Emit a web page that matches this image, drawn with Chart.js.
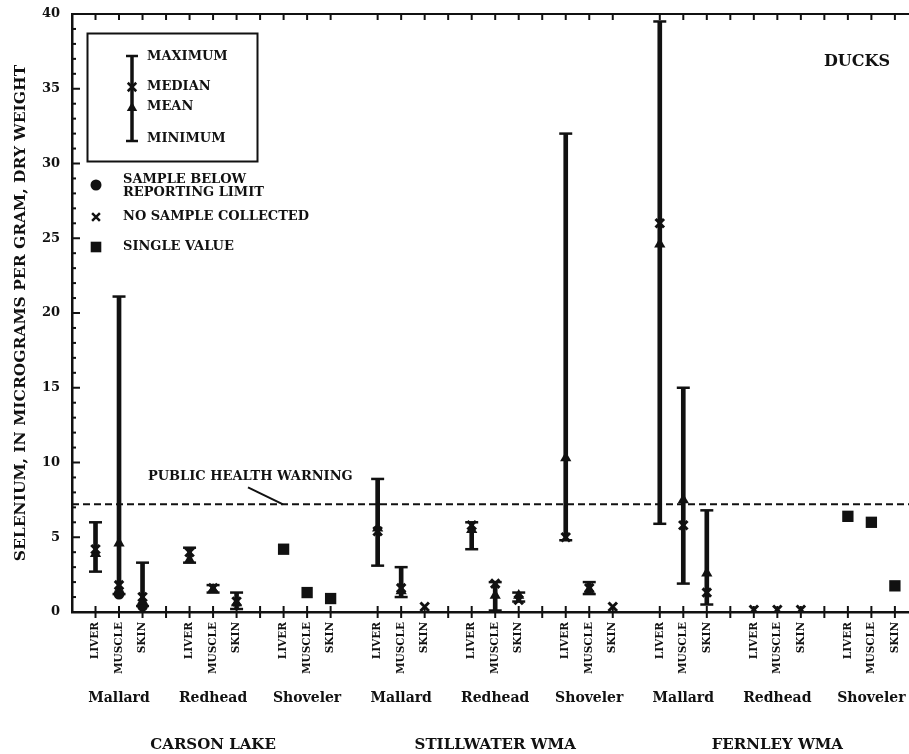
<!DOCTYPE html>
<html>
<head>
<meta charset="utf-8">
<script src="https://cdn.jsdelivr.net/npm/chart.js@4/dist/chart.umd.min.js"></script>
<style>
  html, body { margin: 0; padding: 0; background: #fff; }
  #wrap { width: 909px; height: 754px; }
</style>
</head>
<body>
<div id="wrap"><canvas id="c" width="909" height="754"></canvas></div>
<script>
// Categories: site -> species -> tissue (27 combinations, in this order)
const sites = ['CARSON LAKE', 'STILLWATER WMA', 'FERNLEY WMA'];
const species = ['Mallard', 'Redhead', 'Shoveler'];
const tissues = ['LIVER', 'MUSCLE', 'SKIN'];

// Selenium, micrograms per gram dry weight
const maximum = [6.0, 21.1, 3.3,  4.3, 1.8, 1.3,  null, null, null,
                 8.9, 3.0, null,  6.0, 2.0, 1.3,  32.0, 2.0, null,
                 39.5, 15.0, 6.8, null, null, null, null, null, null];
const minimum = [2.7, 1.2, 0.4,  3.3, 1.3, 0.2,  null, null, null,
                 3.1, 1.0, null,  4.2, 0.1, 0.7,  4.8, 1.2, null,
                 5.9, 1.9, 0.5,  null, null, null, null, null, null];
const median  = [4.2, 1.8, 1.0,  4.0, 1.6, 0.7,  null, null, null,
                 5.4, 1.6, null,  5.8, 1.9, 0.8,  5.0, 1.6, null,
                 26.0, 5.8, 1.3, null, null, null, null, null, null];
const mean    = [3.9, 4.6, 0.7,  3.5, 1.5, 0.6,  null, null, null,
                 5.6, 1.4, null,  5.5, 1.1, 1.1,  10.3, 1.5, null,
                 24.6, 7.5, 2.6, null, null, null, null, null, null];
const belowLimit = [null, 1.2, 0.4, null, null, null, null, null, null,
                    null, null, null, null, null, null, null, null, null,
                    null, null, null, null, null, null, null, null, null];
const singleValue = [null, null, null, null, null, null, 4.2, 1.3, 0.9,
                     null, null, null, null, null, null, null, null, null,
                     null, null, null, null, null, null, 6.4, 6.0, 1.75];
const noSample = [null, null, null, null, null, null, null, null, null,
                  null, null, 0.35, null, null, null, null, null, 0.35,
                  null, null, null, 0.15, 0.15, 0.15, null, null, null];

const healthWarning = 7.2;
const yStep = 5;
const yMax = 40;

// Each species group takes 4 slots on the x axis (3 tissues + a spacer)
const slotOf = i => Math.floor(i / 9) * 12 + Math.floor((i % 9) / 3) * 4 + (i % 3);
const points = arr => arr.map((v, i) => v == null ? null : { x: slotOf(i), y: v }).filter(Boolean);

const ink = '#111';
const FONT = '"DejaVu Serif", "Liberation Serif", serif';

const ranges = maximum.map((hi, i) => (hi == null || minimum[i] == null) ? null : { x: slotOf(i), y: [minimum[i], hi] })
                      .filter(Boolean);
const caps = points(maximum).concat(points(minimum));

function line(ctx, x1, y1, x2, y2) {
  ctx.beginPath(); ctx.moveTo(x1, y1); ctx.lineTo(x2, y2); ctx.stroke();
}

// The plot runs right up to the canvas edge (open on the right side)
const fullWidth = {
  id: 'fullWidth',
  afterLayout(chart) {
    const a = chart.chartArea, x = chart.scales.x;
    if (a.right < chart.width) {
      a.right = chart.width;
      a.width = a.right - a.left;
      x.right = chart.width;
      x.width = x.right - x.left;
      x.configure();
    }
  }
};

const decor = {
  id: 'decor',
  beforeDatasetsDraw(chart) {
    const { ctx, chartArea: a, scales: { x, y } } = chart;
    ctx.save();
    ctx.strokeStyle = ink;
    ctx.lineWidth = 2;
    // frame top
    line(ctx, a.left, a.top, a.right, a.top);
    // inward y ticks, major every 5, minor every 1
    for (let v = 0; v <= yMax; v++) {
      const py = y.getPixelForValue(v);
      line(ctx, a.left, py, a.left + (v % yStep === 0 ? 8 : 4), py);
    }
    // x ticks across the axis and along the top
    for (let s = 0; s <= 34; s++) {
      if (s % 12 === 11) continue;
      const px = x.getPixelForValue(s);
      line(ctx, px, a.bottom - 6, px, a.bottom + 6);
      line(ctx, px, a.top, px, a.top + 6);
    }
    // public health warning level
    const wy = y.getPixelForValue(healthWarning);
    ctx.setLineDash([7, 4]);
    line(ctx, a.left, wy, a.right, wy);
    ctx.setLineDash([]);
    ctx.font = 'bold 13px ' + FONT;
    ctx.fillStyle = ink;
    ctx.textBaseline = 'middle';
    ctx.textAlign = 'left';
    ctx.fillText('PUBLIC HEALTH WARNING', a.left + 76, wy - 28);
    line(ctx, a.left + 176, wy - 17, a.left + 211, wy);
    ctx.restore();
  },
  afterDraw(chart) {
    const { ctx, chartArea: a, scales: { x } } = chart;
    const H = Chart.helpers;
    ctx.save();
    ctx.fillStyle = ink;
    ctx.strokeStyle = ink;
    ctx.textBaseline = 'middle';

    // species and site labels under the tissue names
    ctx.textAlign = 'center';
    ctx.font = 'bold 14px ' + FONT;
    sites.forEach((site, si) => {
      species.forEach((sp, pi) => {
        ctx.fillText(sp, x.getPixelForValue(si * 12 + pi * 4 + 1), a.bottom + 86);
      });
    });
    ctx.font = 'bold 15px ' + FONT;
    sites.forEach((site, si) => {
      ctx.fillText(site, x.getPixelForValue(si * 12 + 5), a.bottom + 133);
    });

    // panel title
    ctx.textAlign = 'right';
    ctx.font = 'bold 16px ' + FONT;
    ctx.fillText('DUCKS', a.right - 19, a.top + 48);

    // key
    const L = a.left, T = a.top;
    ctx.lineWidth = 2;
    ctx.strokeRect(L + 15.5, T + 19.5, 170, 128);
    const bx = L + 60;
    ctx.lineWidth = 3.5;
    line(ctx, bx, T + 42, bx, T + 127);
    ctx.lineWidth = 2.5;
    line(ctx, bx - 6, T + 42, bx + 6, T + 42);
    line(ctx, bx - 6, T + 127, bx + 6, T + 127);
    H.drawPoint(ctx, { pointStyle: 'crossRot', radius: 6, borderWidth: 3, rotation: 0 }, bx, T + 73);
    H.drawPoint(ctx, { pointStyle: 'triangle', radius: 6, borderWidth: 0, rotation: 0 }, bx, T + 94);

    ctx.textAlign = 'left';
    ctx.font = 'bold 13px ' + FONT;
    const tx = L + 75;
    ctx.fillText('MAXIMUM', tx, T + 43);
    ctx.fillText('MEDIAN', tx, T + 73);
    ctx.fillText('MEAN', tx, T + 93);
    ctx.fillText('MINIMUM', tx, T + 125);

    const mx = L + 24, lx = L + 51;
    H.drawPoint(ctx, { pointStyle: 'circle', radius: 5.5, borderWidth: 0, rotation: 0 }, mx, T + 171);
    ctx.fillText('SAMPLE BELOW', lx, T + 166);
    ctx.fillText('REPORTING LIMIT', lx, T + 179);
    H.drawPoint(ctx, { pointStyle: 'crossRot', radius: 5.5, borderWidth: 3, rotation: 0 }, mx, T + 203);
    ctx.fillText('NO SAMPLE COLLECTED', lx, T + 203);
    H.drawPoint(ctx, { pointStyle: 'rect', radius: 7.5, borderWidth: 0, rotation: 0 }, mx, T + 233);
    ctx.fillText('SINGLE VALUE', lx, T + 233);
    ctx.restore();
  }
};

const markerBase = { type: 'scatter', backgroundColor: ink, borderColor: ink };

new Chart(document.getElementById('c'), {
  type: 'scatter',
  data: {
    datasets: [
      { ...markerBase, label: 'Median', data: points(median), pointStyle: 'crossRot', pointRadius: 6, pointBorderWidth: 3 },
      { ...markerBase, label: 'Mean', data: points(mean), pointStyle: 'triangle', pointRadius: 6.5, pointBorderWidth: 0 },
      { ...markerBase, label: 'Sample below reporting limit', data: points(belowLimit), pointStyle: 'circle', pointRadius: 5.5, pointBorderWidth: 0 },
      { ...markerBase, label: 'Single value', data: points(singleValue), pointStyle: 'rect', pointRadius: 8, pointBorderWidth: 0 },
      { ...markerBase, label: 'No sample collected', data: points(noSample), pointStyle: 'crossRot', pointRadius: 6, pointBorderWidth: 3 },
      { ...markerBase, label: 'Maximum / minimum', data: caps, pointStyle: 'line', pointRadius: 6.5, pointBorderWidth: 2.5 },
      { type: 'bar', label: 'Range', data: ranges, backgroundColor: ink, borderWidth: 0, barThickness: 4, grouped: false }
    ]
  },
  options: {
    responsive: false,
    animation: false,
    devicePixelRatio: 1,
    events: [],
    layout: { padding: { left: 8, top: 14, right: 0, bottom: 0 } },
    plugins: { legend: { display: false }, tooltip: { enabled: false } },
    scales: {
      x: {
        type: 'linear', min: -1, max: 34.6, offset: false,
        grid: { display: false, drawTicks: false },
        border: { display: true, color: ink, width: 2.5 },
        ticks: {
          stepSize: 1, autoSkip: false, minRotation: 90, maxRotation: 90, padding: 10, color: ink,
          font: { family: FONT, weight: 'bold', size: 10.5 },
          callback: v => (Number.isInteger(v) && v >= 0 && v % 4 !== 3) ? tissues[v % 4] : ''
        },
        afterFit: s => { s.height = 142; s.paddingLeft = 0; s.paddingRight = 0; }
      },
      y: {
        type: 'linear', min: 0, max: yMax,
        grid: { display: false, drawTicks: false },
        border: { display: true, color: ink, width: 2.5 },
        ticks: { stepSize: yStep, padding: 12, color: ink, font: { family: FONT, weight: 'bold', size: 13 } },
        title: {
          display: true, text: 'SELENIUM, IN MICROGRAMS PER GRAM, DRY WEIGHT', color: ink,
          font: { family: FONT, weight: 'bold', size: 15.5 }, padding: { top: 4, bottom: 0 }
        },
        afterFit: s => { s.width = 64; s.paddingTop = 0; s.paddingBottom = 0; }
      }
    }
  },
  plugins: [fullWidth, decor]
});
</script>
</body>
</html>
